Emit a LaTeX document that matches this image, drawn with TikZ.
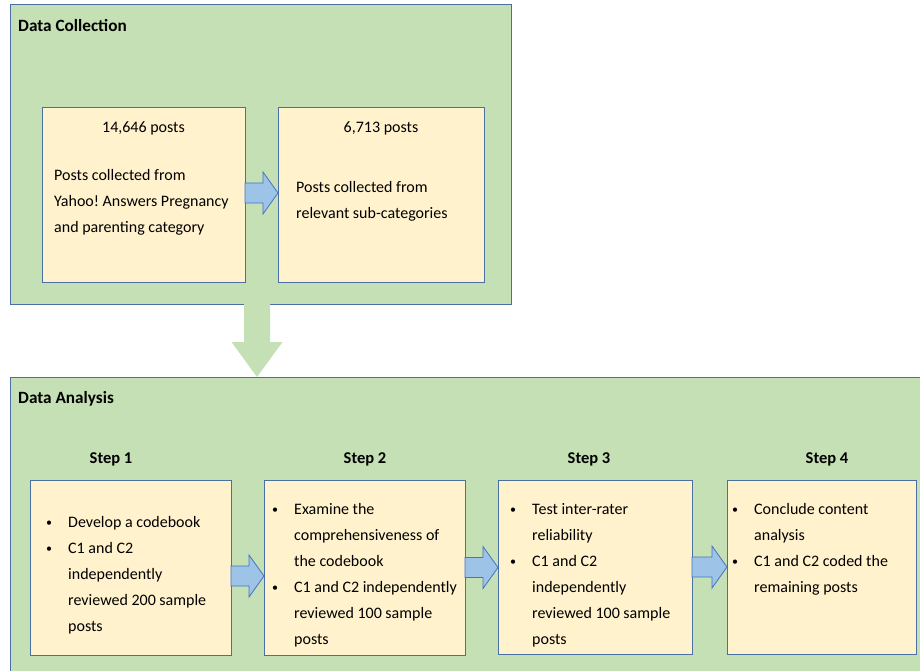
\documentclass[tikz,border=0pt]{standalone}
\usepackage{fontspec}
\setmainfont{Carlito}
\usetikzlibrary{calc}
\definecolor{panelgreen}{HTML}{C5E0B4}
\definecolor{boxyellow}{HTML}{FFF2CC}
\definecolor{frameblue}{HTML}{4A6FA5}
\definecolor{arrowfill}{HTML}{9DC3E6}
\definecolor{arrowline}{HTML}{4472C4}
\tikzset{
  panel/.style={draw=frameblue, line width=1pt, fill=panelgreen, rectangle, anchor=north west, outer sep=0pt, inner sep=0pt},
  card/.style={draw=frameblue, line width=0.9pt, fill=boxyellow, rectangle, anchor=north west, outer sep=0pt, inner sep=0pt},
  barrow/.style={fill=arrowfill, draw=arrowline, line width=0.8pt, line join=miter},
  garrow/.style={fill=panelgreen},
  txt/.style={font=\fontsize{16}{26}\selectfont\frenchspacing, anchor=base west, inner sep=0pt},
  ctxt/.style={font=\fontsize{16}{26}\selectfont, anchor=base, inner sep=0pt},
  head/.style={font=\fontsize{16.5}{20}\selectfont\bfseries, inner sep=0pt},
  ptitle/.style={font=\fontsize{17.2}{20}\selectfont\bfseries, inner sep=0pt, anchor=base west}
}
\newcommand\blockarrowH[3]{%
  \path[barrow] let \p1=(#1.east), \p2=(#2.west) in
    (\x1,{\y1+(#3)+10pt}) -- ({\x2-15pt},{\y1+(#3)+10pt}) -- ({\x2-15pt},{\y1+(#3)+21pt})
    -- (\x2,{\y1+(#3)}) -- ({\x2-15pt},{\y1+(#3)-21pt}) -- ({\x2-15pt},{\y1+(#3)-10pt})
    -- (\x1,{\y1+(#3)-10pt}) -- cycle;}
\newcommand\bulletlist[1]{%
  \begin{tabular}[t]{@{}p{22pt}@{}l@{}}#1\end{tabular}}
\newcommand\linesleft[1]{%
  \begin{tabular}[t]{@{}l@{}}#1\end{tabular}}
\newcommand\bul{\raisebox{0.5pt}{\fontsize{12}{12}\selectfont\textbullet}}
\begin{document}
\begin{tikzpicture}[x=1pt,y=-1pt]
\useasboundingbox (0,0) rectangle (920,671);
\clip (0,0) rectangle (920,671);
\fill[white] (0,0) rectangle (920,671);
% panels
\node[panel, minimum width=501pt, minimum height=299pt] (dc) at (10,5) {};
\node[panel, minimum width=930pt, minimum height=320pt] (da) at (10,377) {};
\node[ptitle] (dct) at (18,32) {Data Collection};
\node[ptitle] (dat) at (18,403) {Data Analysis};
% down arrow
\path[garrow] let \p1=(dc.south), \p2=(da.north) in
  ({\x1-16.5pt},\y1) -- ({\x1+9.5pt},\y1) -- ({\x1+9.5pt},{\y2+35pt}) -- ({\x1+22pt},{\y2+35pt})
  -- ({\x1-3.5pt},\y2) -- ({\x1-29pt},{\y2+35pt}) -- ({\x1-16.5pt},{\y2+35pt}) -- cycle;
% collection boxes
\node[card, minimum width=203pt, minimum height=175pt] (c1) at (42,107) {};
\node[card, minimum width=206pt, minimum height=175pt] (c2) at (278,107) {};
\node[ctxt] (c1n) at (143.5,133) {14,646 posts};
\node[txt] (c1t) at (54,180) {\linesleft{Posts collected from\\Yahoo! Answers Pregnancy\\and parenting category}};
\node[ctxt] (c2n) at (381,133) {6,713 posts};
\node[txt] (c2t) at (296,193) {\linesleft{Posts collected from\\relevant sub-categories}};
\blockarrowH{c1}{c2}{1.5pt}
% step headings
\node[head, anchor=base] (h1) at (111,463) {Step 1};
\node[head, anchor=base] (h2) at (365,463) {Step 2};
\node[head, anchor=base] (h3) at (589,463) {Step 3};
\node[head, anchor=base] (h4) at (827,463) {Step 4};
% step boxes
\node[card, minimum width=201pt, minimum height=175pt] (s1) at (30,480) {};
\node[card, minimum width=201pt, minimum height=175pt] (s2) at (264,480) {};
\node[card, minimum width=194pt, minimum height=174pt] (s3) at (498,480) {};
\node[card, minimum width=189pt, minimum height=174pt] (s4) at (727,480) {};
\node[txt] (s1t) at (46,527) {\bulletlist{%
  \bul & Develop a codebook\\
  \bul & C1 and C2\\
  & independently\\
  & reviewed 200 sample\\
  & posts}};
\node[txt] (s2t) at (272,514) {\bulletlist{%
  \bul & Examine the\\
  & comprehensiveness of\\
  & the codebook\\
  \bul & C1 and C2 independently\\
  & reviewed 100 sample\\
  & posts}};
\node[txt] (s3t) at (510,514) {\bulletlist{%
  \bul & Test inter-rater\\
  & reliability\\
  \bul & C1 and C2\\
  & independently\\
  & reviewed 100 sample\\
  & posts}};
\node[txt] (s4t) at (732,514) {\bulletlist{%
  \bul & Conclude content\\
  & analysis\\
  \bul & C1 and C2 coded the\\
  & remaining posts}};
\blockarrowH{s1}{s2}{-8.5pt}
\blockarrowH{s2}{s3}{0pt}
\blockarrowH{s3}{s4}{0pt}
\end{tikzpicture}
\end{document}
